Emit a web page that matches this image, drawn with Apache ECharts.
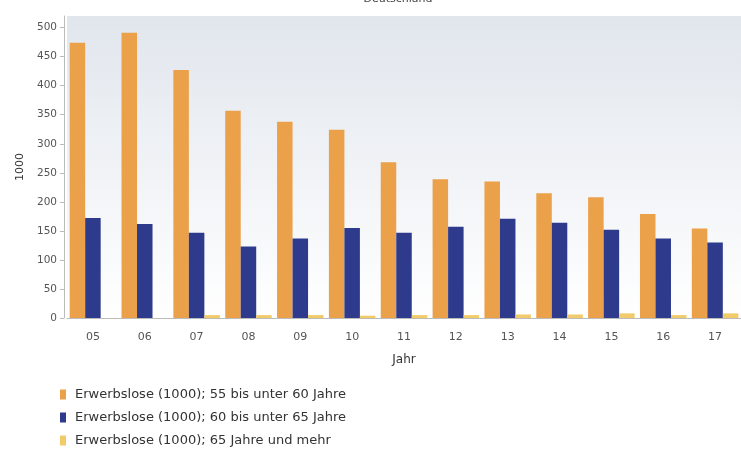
<!DOCTYPE html>
<html>
<head>
<meta charset="utf-8">
<script src="https://cdn.jsdelivr.net/npm/echarts@6/dist/echarts.min.js"></script>
<style>
html, body { margin: 0; padding: 0; background: #fff; }
#chart { width: 741px; height: 449px; }
</style>
</head>
<body>
<div id="chart"></div>
<script>
// Jahre (Kategorien)
var jahre = ['05', '06', '07', '08', '09', '10', '11', '12', '13', '14', '15', '16', '17'];
// Erwerbslose in 1000
var alter55bis60 = [474, 491, 427, 357, 338, 324, 268, 239, 235, 215, 208, 179, 154];
var alter60bis65 = [172, 162, 147, 123, 137, 155, 147, 157, 171, 164, 152, 137, 130];
var alter65plus = [null, null, 5, 5, 5, 4, 5, 5, 6, 6, 8, 5, 8];
var serienNamen = [
    'Erwerbslose (1000); 55 bis unter 60 Jahre',
    'Erwerbslose (1000); 60 bis unter 65 Jahre',
    'Erwerbslose (1000); 65 Jahre und mehr'
];

var chart = echarts.init(document.getElementById('chart'));

var option = {
    animation: false,
    color: ['#eba04a', '#2e3a8c', '#f1cb6a'],
    textStyle: { fontFamily: 'DejaVu Sans, Verdana, sans-serif' },
    title: {
        text: 'Deutschland',
        left: 393,
        top: -11,
        textAlign: 'center',
        textStyle: { fontSize: 11, fontWeight: 'normal', color: '#444' }
    },
    legend: {
        orient: 'vertical',
        left: 60,
        top: 388,
        padding: 0,
        itemWidth: 6,
        itemHeight: 10,
        itemGap: 10,
        icon: 'rect',
        textStyle: { fontSize: 13, color: '#333', padding: [0, 0, 0, 4] },
        data: serienNamen
    },
    grid: {
        left: 67,
        right: -5,
        top: 16,
        bottom: 131,
        show: true,
        borderWidth: 0,
        backgroundColor: {
            type: 'linear', x: 0, y: 0, x2: 0, y2: 1,
            colorStops: [
                { offset: 0, color: '#e1e6ed' },
                { offset: 1, color: '#ffffff' }
            ]
        }
    },
    xAxis: {
        type: 'category',
        data: jahre,
        offset: 5,
        name: 'Jahr',
        nameLocation: 'middle',
        nameGap: 31,
        nameTextStyle: { fontSize: 12, color: '#333' },
        axisLine: { lineStyle: { color: '#bbbbbb' } },
        axisTick: { length: 27, lineStyle: { color: '#dddddd' } },
        axisLabel: { fontSize: 11, color: '#555', margin: 9 }
    },
    yAxis: {
        type: 'value',
        min: 0,
        max: 520,
        interval: 50,
        offset: 3,
        name: '1000',
        nameLocation: 'middle',
        nameGap: 37,
        nameRotate: 90,
        nameTextStyle: { fontSize: 11, color: '#333' },
        axisLine: { show: true, lineStyle: { color: '#bbbbbb' } },
        axisTick: { show: true, length: 4, lineStyle: { color: '#bbbbbb' } },
        axisLabel: { fontSize: 10.5, color: '#555', margin: 7, showMaxLabel: false },
        splitLine: { show: false }
    },
    series: [
        { name: serienNamen[0], type: 'bar', barWidth: 15.5, barGap: '0%', data: alter55bis60 },
        { name: serienNamen[1], type: 'bar', barWidth: 15.5, barGap: '0%', data: alter60bis65 },
        { name: serienNamen[2], type: 'bar', barWidth: 15.5, barGap: '0%', data: alter65plus }
    ]
};

chart.setOption(option);
</script>
</body>
</html>
